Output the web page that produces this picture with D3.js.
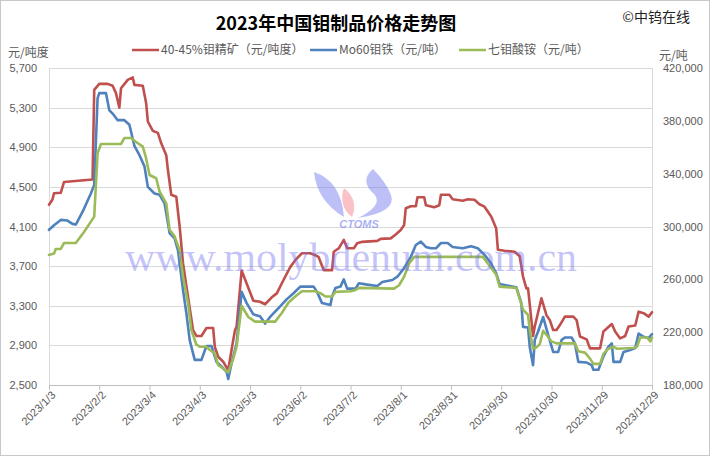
<!DOCTYPE html>
<html><head><meta charset="utf-8">
<script src="https://cdn.jsdelivr.net/npm/d3@7"></script>
<style>body{margin:0;background:#fff}svg{display:block}</style>
</head><body><svg id="c" width="710" height="457"></svg>
<script>
// ---- data ----
const redDates = ["1/3","1/5","1/6","1/10","1/12","1/29","1/30","2/2","2/7","2/10","2/12","2/14","2/15","2/19","2/22","2/23","2/28","3/2","3/3","3/6","3/9","3/11","3/14","3/15","3/17","3/20","3/22","3/24","3/27","3/30","4/1","4/4","4/7","4/11","4/12","4/14","4/17","4/20","4/22","4/24","4/25","4/28","5/1","5/5","5/9","5/12","5/16","5/19","5/23","5/27","5/30","6/3","6/8","6/11","6/13","6/16","6/21","6/22","6/25","6/28","6/30","7/4","7/6","7/9","7/18","7/20","7/26","7/29","8/1","8/3","8/4","8/7","8/10","8/11","8/15","8/16","8/21","8/24","8/25","8/30","9/1","9/7","9/10","9/14","9/17","9/20","9/24","9/27","9/28","10/2","10/8","10/11","10/13","10/15","10/16","10/19","10/20","10/24","10/27","10/29","10/31","11/2","11/4","11/7","11/12","11/14","11/16","11/20","11/22","11/28","11/30","12/2","12/5","12/7","12/10","12/13","12/15","12/19","12/21","12/24","12/27","12/29"];
const redValues = [4320,4370,4435,4440,4550,4575,5480,5540,5540,5520,
5445,5300,5495,5580,5605,5530,5520,5345,5160,5065,
5045,4940,4820,4670,4420,4400,4100,3730,3390,3055,
2995,2995,3075,3075,2885,2785,2735,2650,2855,3050,
3090,3655,3525,3350,3340,3315,3385,3425,3560,3690,
3760,3830,3830,3810,3790,3660,3660,3845,3880,3965,
3880,3880,3930,3945,3955,3975,3980,4020,4065,4115,
4285,4305,4305,4395,4395,4315,4295,4315,4420,4420,
4375,4360,4375,4370,4325,4300,4200,4080,3865,3855,
3845,3800,3595,3475,3475,2995,3090,3375,3205,3155,
3055,3055,3105,3190,3190,3155,2990,2960,2870,2870,
3040,3070,3115,3040,2970,2995,3090,3100,3240,3225,3190,3235];

const blueDates = ["1/3","1/6","1/10","1/14","1/17","1/19","1/23","1/28","1/30","2/1","2/2","2/6","2/8","2/10","2/13","2/17","2/20","2/23","2/26","3/1","3/3","3/7","3/10","3/13","3/16","3/19","3/21","3/24","3/26","3/28","3/31","4/4","4/7","4/10","4/13","4/16","4/19","4/20","4/22","4/25","4/28","5/1","5/5","5/9","5/12","5/15","5/18","5/21","5/25","5/29","6/2","6/10","6/12","6/15","6/20","6/21","6/23","6/26","6/28","6/30","7/5","7/7","7/12","7/18","7/21","7/27","7/30","8/3","8/7","8/10","8/13","8/16","8/19","8/22","8/25","8/29","9/1","9/7","9/12","9/16","9/20","9/24","9/27","9/29","10/5","10/9","10/12","10/13","10/16","10/17","10/19","10/20","10/22","10/25","10/28","10/31","11/3","11/5","11/7","11/11","11/13","11/15","11/20","11/23","11/24","11/27","11/30","12/3","12/5","12/6","12/10","12/12","12/16","12/19","12/21","12/24","12/27","12/29"];
const blueValues = [297500,301000,305000,304500,302000,301500,311000,325000,331500,397000,
401000,401000,388000,385500,380500,380500,377000,361000,354000,345500,
330000,325000,324000,317500,295000,291000,282000,252000,234500,214000,
199000,199000,209500,209500,197500,194000,190000,184500,196500,211500,
250500,242000,233500,232000,226500,231500,235500,239500,245000,249500,
254500,254500,250500,242000,240500,247000,253500,254500,260000,253000,
253000,257000,256000,255000,258000,259500,262000,268500,277000,286000,
288500,284500,283500,283500,287500,287500,284500,283500,285000,283500,
278500,272000,264500,256500,255000,254000,242000,224000,223500,209000,
195000,214000,220500,231500,218000,205000,205000,214000,216000,216000,
211500,197500,197000,195000,191500,191500,201500,209000,211500,197500,
197500,205000,206500,208000,219000,216500,215500,218500];

const greenDates = ["1/3","1/6","1/7","1/10","1/12","1/19","1/24","1/30","2/1","2/3","2/15","2/17","2/21","2/24","2/28","3/2","3/4","3/8","3/10","3/14","3/16","3/19","3/22","3/24","3/27","3/29","4/1","4/3","4/7","4/9","4/12","4/14","4/17","4/20","4/23","4/25","4/28","5/2","5/6","5/18","5/22","5/26","5/30","6/3","6/11","6/14","6/17","6/21","6/23","7/2","7/5","7/7","7/28","7/31","8/3","8/6","8/9","9/19","9/22","9/27","9/29","10/9","10/13","10/16","10/17","10/19","10/21","10/23","10/25","10/27","10/30","11/2","11/13","11/15","11/19","11/22","11/24","11/28","11/30","12/3","12/6","12/8","12/18","12/20","12/22","12/26","12/28","12/29"];
const greenValues = [278500,279500,283000,283000,287500,287500,296000,307500,355500,362500,
362500,367000,367000,364000,360500,351500,339000,336500,326500,317500,
297500,292500,282000,262000,242000,221500,210500,209000,209000,206500,
204000,195000,192500,189500,200000,209000,240000,231500,228000,228000,
234500,242500,247000,251000,251000,249500,247000,247000,250500,251000,
252000,253500,253000,255500,262000,272000,277000,277000,272000,263500,
254500,253500,237000,233000,221500,207500,208500,211000,221000,218000,
213000,211500,211500,205500,204500,200000,196000,196000,203500,207500,
209000,207500,208000,209000,216000,216000,213000,216000];

const seriesNames = ["40-45%钼精矿（元/吨度）","Mo60钼铁（元/吨）","七钼酸铵（元/吨）"];
const leftTicks = [2500,2900,3300,3700,4100,4500,4900,5300,5700];
const rightTicks = [180000,220000,260000,300000,340000,380000,420000];
const xTickLabels = ["2023/1/3","2023/2/2","2023/3/4","2023/4/3","2023/5/3","2023/6/2","2023/7/2","2023/8/1","2023/8/31","2023/9/30","2023/10/30","2023/11/29","2023/12/29"];

// ---- helpers ----
const pd = s => { const p = s.split("/").map(Number); return p.length === 3 ? new Date(p[0], p[1]-1, p[2]) : new Date(2023, p[0]-1, p[1]); };
const zip = (ds, vs) => ds.map((d, i) => ({date: pd(d), v: vs[i]}));

const svg = d3.select("#c");
const L = 49, R = 652, T = 68, B = 385;
const font = "'Noto Sans CJK SC','Noto Sans',sans-serif";
const numFont = "'Liberation Sans',Arial,sans-serif";
const grey = "#595959";

svg.append("rect").attr("x",0.5).attr("y",0.5).attr("width",709).attr("height",455)
  .attr("fill","#fff").attr("stroke","#c8c8c8");

const x = d3.scaleTime().domain([pd(xTickLabels[0]), pd(xTickLabels[xTickLabels.length-1])]).range([L, R]);
const yL = d3.scaleLinear().domain([2500, 5700]).range([B, T]);
const yR = d3.scaleLinear().domain([180000, 420000]).range([B, T]);

// gridlines
svg.append("g").selectAll("line").data(leftTicks).join("line")
  .attr("x1", L).attr("x2", R).attr("y1", d => Math.round(yL(d))+0.5).attr("y2", d => Math.round(yL(d))+0.5)
  .attr("stroke", "#d9d9d9").attr("stroke-width", 1);

// vertical axis lines
[L, R].forEach(xx => svg.append("line").attr("x1", xx+0.5).attr("x2", xx+0.5).attr("y1", T).attr("y2", B)
  .attr("stroke", "#d9d9d9"));

// left axis
const gl = svg.append("g").attr("transform", `translate(${L},0)`)
  .call(d3.axisLeft(yL).tickValues(leftTicks).tickFormat(d3.format(",")).tickSize(0).tickPadding(12));
gl.select(".domain").remove();
gl.selectAll("text").attr("font-family", numFont).attr("font-size", 11).attr("fill", grey);

// right axis
const gr = svg.append("g").attr("transform", `translate(${R},0)`)
  .call(d3.axisRight(yR).tickValues(rightTicks).tickFormat(d3.format(",")).tickSize(0).tickPadding(11));
gr.select(".domain").remove();
gr.selectAll("text").attr("font-family", numFont).attr("font-size", 11).attr("fill", grey);

// bottom axis
const xt = xTickLabels.map(pd);
const gb = svg.append("g").attr("transform", `translate(0,${B})`)
  .call(d3.axisBottom(x).tickValues(xt).tickFormat((d,i) => xTickLabels[i]).tickSize(5).tickSizeOuter(0));
gb.select(".domain").attr("stroke", "#bfbfbf").attr("stroke-width", 1);
gb.selectAll(".tick line").attr("stroke", "#bfbfbf");
gb.selectAll("text").attr("font-family", numFont).attr("font-size", 11).attr("fill", grey)
  .attr("text-anchor", "end").attr("dy", "0.35em")
  .attr("transform", "translate(4,8) rotate(-45)").attr("y", 0).attr("x", 0);

// axis titles
svg.append("text").attr("x", 8).attr("y", 57).text("元/吨度")
  .attr("font-family", font).attr("font-size", 12).attr("fill", grey);
svg.append("text").attr("x", 659).attr("y", 60).text("元/吨")
  .attr("font-family", font).attr("font-size", 12).attr("fill", grey);

// title
svg.append("text").attr("x", 336).attr("y", 30).attr("text-anchor", "middle")
  .text("2023年中国钼制品价格走势图").attr("font-family", font).attr("font-size", 18)
  .attr("font-weight", "bold").attr("fill", "#000");
svg.append("text").attr("x", 690).attr("y", 22).attr("text-anchor", "end")
  .text("©中钨在线").attr("font-family", font).attr("font-size", 14).attr("fill", "#222");

// legend
const colors = ["#C0504D", "#4F81BD", "#9BBB59"];
const legX = [132, 310, 459];
seriesNames.forEach((n, i) => {
  svg.append("line").attr("x1", legX[i]).attr("x2", legX[i]+27).attr("y1", 50).attr("y2", 50)
    .attr("stroke", colors[i]).attr("stroke-width", 2.5);
  svg.append("text").attr("x", legX[i]+29).attr("y", 54).text(n)
    .attr("font-family", font).attr("font-size", 12).attr("fill", grey);
});

// series
const lineL = d3.line().x(d => x(d.date)).y(d => yL(d.v));
const lineR = d3.line().x(d => x(d.date)).y(d => yR(d.v));
const series = [
  {data: zip(redDates, redValues), gen: lineL},
  {data: zip(blueDates, blueValues), gen: lineR},
  {data: zip(greenDates, greenValues), gen: lineR}
];
series.forEach((s, i) => svg.append("path").attr("d", s.gen(s.data)).attr("fill", "none")
  .attr("stroke", colors[i]).attr("stroke-width", 2.6).attr("stroke-linejoin", "round").attr("stroke-linecap","round"));

// watermark
const wm = svg.append("g").attr("pointer-events", "none");
wm.append("path").attr("d", "M314,172 Q341,181 344,217 Q317,201 314,172 Z").attr("fill", "rgba(95,105,235,0.42)");
wm.append("path").attr("d", "M344,188 Q359,200 352,217 Q345,212 343,204 Q341,195 344,188 Z").attr("fill", "rgba(245,120,130,0.45)");
wm.append("path").attr("d", "M373,169 Q359,181 374,194 Q384,205 358,218 Q397,212 391,195 Q386,182 373,169 Z").attr("fill", "rgba(95,105,235,0.42)");
wm.append("text").attr("x", 359).attr("y", 228).attr("text-anchor", "middle").text("CTOMS")
  .attr("font-family", numFont).attr("font-size", 11).attr("font-style", "italic").attr("font-weight", "bold")
  .attr("fill", "rgba(95,110,235,0.55)");
wm.append("text").attr("x", 125).attr("y", 271).text("www.molybdenum.com.cn")
  .attr("font-family", "'Liberation Serif','DejaVu Serif',serif").attr("font-size", 40)
  .attr("textLength", 452).attr("lengthAdjust", "spacingAndGlyphs")
  .attr("fill", "rgba(110,110,240,0.42)");
</script></body></html>
